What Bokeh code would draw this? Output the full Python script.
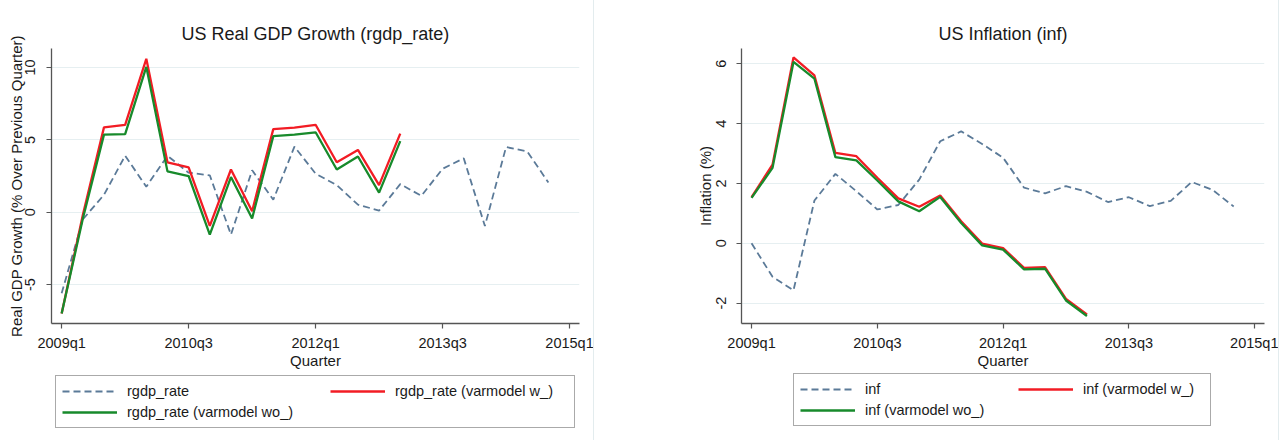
from bokeh.plotting import figure
from bokeh.models import Range1d, FixedTicker, Legend, LegendItem
from bokeh.layouts import row, column
from bokeh.embed import file_html
from bokeh.resources import INLINE

# ---- data (Stata quarterly dates: 196 = 2009q1) ----
quarters = list(range(196, 220))          # 2009q1 .. 2014q4
fc_quarters = list(range(196, 213))       # 2009q1 .. 2013q1
x_tick_vals = [196, 202, 208, 214, 220]
x_tick_labels = ["2009q1", "2010q3", "2012q1", "2013q3", "2015q1"]

rgdp_rate = [-5.6, -0.5, 1.2, 3.9, 1.76, 3.9, 2.73, 2.55, -1.55, 2.9, 0.86, 4.53,
             2.66, 1.87, 0.52, 0.11, 1.94, 1.13, 3.0, 3.72, -0.95, 4.5, 4.2, 2.05]
rgdp_w = [-7.0, -0.2, 5.86, 6.04, 10.6, 3.45, 3.1, -0.95, 2.95, 0.07, 5.74, 5.85,
          6.04, 3.45, 4.3, 1.87, 5.43]
rgdp_wo = [-7.0, -0.45, 5.36, 5.4, 10.04, 2.82, 2.5, -1.55, 2.43, -0.43, 5.25, 5.36,
           5.52, 2.95, 3.85, 1.35, 4.91]

inf = [0.0, -1.12, -1.57, 1.43, 2.32, 1.74, 1.13, 1.28, 2.13, 3.41, 3.74, 3.32,
       2.86, 1.86, 1.67, 1.91, 1.72, 1.38, 1.54, 1.24, 1.42, 2.05, 1.78, 1.23]
inf_w = [1.54, 2.63, 6.21, 5.61, 3.02, 2.91, 2.19, 1.5, 1.22, 1.6, 0.74, -0.01,
         -0.16, -0.82, -0.80, -1.86, -2.38]
inf_wo = [1.52, 2.52, 6.06, 5.5, 2.88, 2.77, 2.1, 1.4, 1.07, 1.55, 0.68, -0.07,
          -0.21, -0.87, -0.85, -1.91, -2.43]

gdp_y_ticks = [-5, 0, 5, 10]
gdp_y_labels = ["-5", "0", "5", "10"]
inf_y_ticks = [-2, 0, 2, 4, 6]
inf_y_labels = ["-2", "0", "2", "4", "6"]

gdp_names = ["rgdp_rate", "rgdp_rate (varmodel w_)", "rgdp_rate (varmodel wo_)"]
inf_names = ["inf", "inf (varmodel w_)", "inf (varmodel wo_)"]

FONT = "Liberation Sans"
TXT = "#1a1a1a"
AX = "#555555"
GRID = "#E6EFF1"
BLUE = "#5B7A98"
RED = "#F21C24"
GREEN = "#178A2B"
STYLES = [dict(line_color=BLUE, line_width=1.8, line_dash="7 4"),
          dict(line_color=RED, line_width=2.3),
          dict(line_color=GREEN, line_width=2.3)]

PLOT_H = 372
LEG_H = 68
X_RANGE = (195.52, 220.47)


def panel(width, mb_left, mb_right, mb_top, mb_bottom, yr, title, ylabel,
          yticks, ylabels, ser, y_standoff, ylab_standoff):
    p = figure(width=width, height=PLOT_H, output_backend="svg", toolbar_location=None,
               x_range=Range1d(*X_RANGE), y_range=Range1d(*yr),
               min_border_left=mb_left, min_border_right=mb_right,
               min_border_top=mb_top, min_border_bottom=mb_bottom,
               background_fill_color="white", border_fill_color="white")
    p.outline_line_color = None
    p.title.text = title
    p.title.text_font = FONT
    p.title.text_font_size = "18px"
    p.title.text_font_style = "normal"
    p.title.text_color = TXT
    p.title.align = "center"
    p.title.standoff = 9

    p.xaxis.ticker = FixedTicker(ticks=x_tick_vals)
    p.xaxis.major_label_overrides = {v: l for v, l in zip(x_tick_vals, x_tick_labels)}
    p.yaxis.ticker = FixedTicker(ticks=yticks)
    p.yaxis.major_label_overrides = {v: l for v, l in zip(yticks, ylabels)}
    p.yaxis.major_label_orientation = "vertical"
    p.xaxis.axis_label = "Quarter"
    p.yaxis.axis_label = ylabel
    for ax in (p.xaxis, p.yaxis):
        ax.axis_line_color = AX
        ax.axis_line_width = 1.3
        ax.major_tick_line_color = AX
        ax.major_tick_line_width = 1.2
        ax.major_tick_out = 5
        ax.major_tick_in = 0
        ax.minor_tick_line_color = None
        ax.major_label_text_font = FONT
        ax.major_label_text_font_size = "14.5px"
        ax.major_label_text_color = TXT
        ax.axis_label_text_font = FONT
        ax.axis_label_text_font_size = "15px"
        ax.axis_label_text_font_style = "normal"
        ax.axis_label_text_color = TXT
    p.xaxis.major_label_standoff = 6
    p.xaxis.axis_label_standoff = -2
    p.yaxis.major_label_standoff = y_standoff
    p.yaxis.axis_label_standoff = ylab_standoff
    p.xgrid.grid_line_color = None
    p.ygrid.grid_line_color = GRID
    p.ygrid.grid_line_width = 1.2

    for (xs, ys), st in zip(ser, STYLES):
        p.line(xs, ys, **st)
    return p


def legend_fig(width, names, ser, locA, locB, label_width):
    # the series are drawn outside this strip's visible range; only the legend shows
    f = figure(width=width, height=LEG_H, output_backend="svg", toolbar_location=None,
               x_range=Range1d(0, 1), y_range=Range1d(0, 1),
               x_axis_location=None, y_axis_location=None,
               min_border_left=0, min_border_right=0, min_border_top=0,
               min_border_bottom=0, background_fill_color="white",
               border_fill_color="white")
    f.outline_line_color = None
    f.xgrid.grid_line_color = None
    f.ygrid.grid_line_color = None
    rs = [f.line(xs, ys, **st) for (xs, ys), st in zip(ser, STYLES)]
    common = dict(label_text_font=FONT, label_text_font_size="14.5px",
                  label_text_color=TXT, glyph_width=55, glyph_height=18,
                  label_height=18, label_standoff=10, padding=6, spacing=3,
                  margin=0)
    la = Legend(items=[LegendItem(label=names[0], renderers=[rs[0]]),
                       LegendItem(label=names[2], renderers=[rs[2]])],
                location=locA, label_width=label_width,
                border_line_color="#555555", border_line_width=1.3,
                background_fill_color="white", background_fill_alpha=1.0, **common)
    lb = Legend(items=[LegendItem(label=names[1], renderers=[rs[1]])],
                location=locB, border_line_color=None,
                background_fill_alpha=0.0, **common)
    f.add_layout(la)
    f.add_layout(lb)
    return f


gdp_ser = [(quarters, rgdp_rate), (fc_quarters, rgdp_w), (fc_quarters, rgdp_wo)]
inf_ser = [(quarters, inf), (fc_quarters, inf_w), (fc_quarters, inf_wo)]

left = panel(594, 51, 15, 48, 45, (-7.69, 11.31),
             "US Real GDP Growth (rgdp_rate)",
             "Real GDP Growth (% Over Previous Quarter)",
             gdp_y_ticks, gdp_y_labels, gdp_ser, 11, -2)

right = panel(684, 147, 14, 47, 49, (-2.68, 6.51),
              "US Inflation (inf)", "Inflation (%)",
              inf_y_ticks, inf_y_labels, inf_ser, 10, 0)

leg_left = legend_fig(594, gdp_names, gdp_ser, (55, 12), (330, 40), 441)
leg_right = legend_fig(684, inf_names, inf_ser, (199, 14), (424, 42), 339)

shadow = {"box-shadow": "-1px 0 0 #E3ECEE, 1px 0 0 #E3ECEE"}
right.styles = shadow
leg_right.styles = shadow

layout = column(row(left, right), row(leg_left, leg_right))
open("out.html", "w").write(file_html(layout, INLINE))
